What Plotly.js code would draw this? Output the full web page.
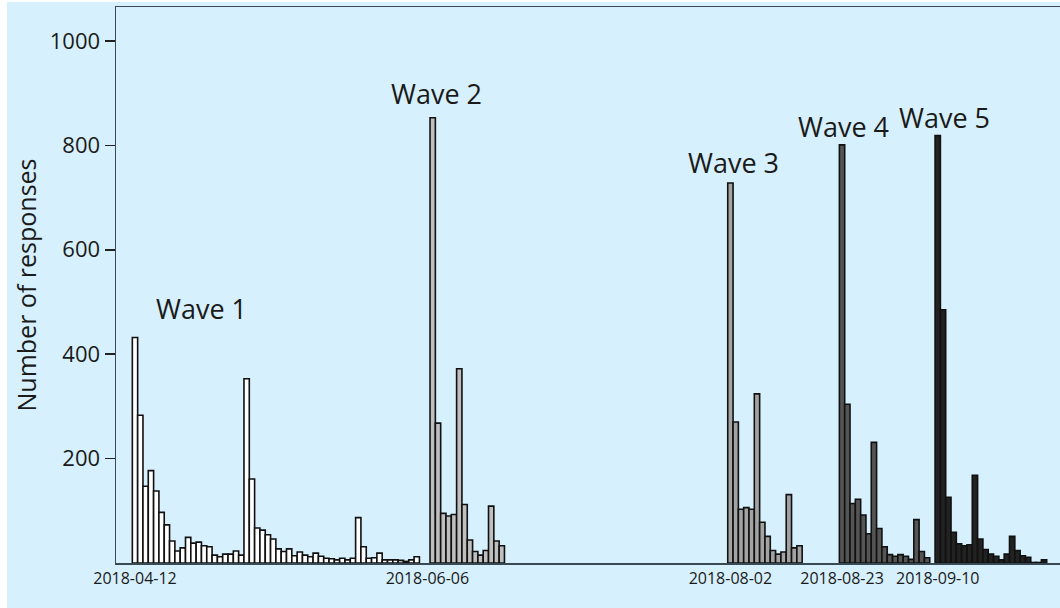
<!DOCTYPE html>
<html>
<head>
<meta charset="utf-8">
<script src="https://cdn.plot.ly/plotly-3.0.1.min.js"></script>
<style>
  html, body { margin: 0; padding: 0; background: #ffffff; }
  #chart { position: absolute; left: 7px; top: 2px; width: 1053px; height: 606px; }
</style>
</head>
<body>
<div id="chart"></div>
<script>
// ---- Data ----
const waveNames = ["Wave 1", "Wave 2", "Wave 3", "Wave 4", "Wave 5"];
const waveStartDates = ["2018-04-12", "2018-06-07", "2018-08-02", "2018-08-23", "2018-09-10"];

const wave1Responses = [432, 283, 147, 177, 138, 97, 73, 42, 23, 29, 49, 38, 40, 33, 31, 15, 12, 17, 17, 23, 15,
  353, 161, 67, 63, 54, 46, 27, 22, 27, 14, 21, 15, 12, 19, 13, 9, 8, 6, 9, 6, 9, 87, 31, 9, 10, 19, 6, 6, 6, 5, 3, 6, 12];
const wave2Responses = [853, 268, 95, 90, 93, 372, 112, 44, 22, 15, 24, 109, 42, 33];
const wave3Responses = [728, 270, 103, 106, 103, 324, 78, 51, 24, 17, 21, 131, 29, 33];
const wave4Responses = [801, 304, 114, 122, 92, 56, 231, 66, 31, 16, 13, 16, 13, 7, 83, 22, 10];
const wave5Responses = [819, 485, 126, 59, 37, 33, 35, 168, 46, 26, 17, 13, 6, 17, 51, 24, 14, 11, 1, 1, 6];

const tickDates = ["2018-04-12", "2018-06-06", "2018-08-02", "2018-08-23", "2018-09-10"];
const tickLabels = ["2018-04-12", "2018-06-06", "2018-08-02", "2018-08-23", "2018-09-10"];
const yTickValues = [200, 400, 600, 800, 1000];

// ---- Helpers ----
function consecutiveDays(start, n) {
  const out = [];
  const d0 = new Date(start + "T00:00:00Z");
  for (let i = 0; i < n; i++) {
    const d = new Date(d0.getTime() + i * 86400000);
    out.push(d.toISOString().slice(0, 10));
  }
  return out;
}

const allResponses = [wave1Responses, wave2Responses, wave3Responses, wave4Responses, wave5Responses];
const fillColors = ["#ffffff", "#bfbfbf", "#a3a3a3", "#555555", "#222222"];

const traces = allResponses.map((vals, i) => ({
  type: "bar",
  name: waveNames[i],
  x: consecutiveDays(waveStartDates[i], vals.length),
  y: vals,
  width: 86400000,
  marker: { color: fillColors[i], line: { color: "#111111", width: 1.6 } },
  hoverinfo: "x+y"
}));

const FONT = "'Open Sans', 'Noto Sans', sans-serif";

const waveLabelPos = [
  { x: "2018-04-24 10:00", y: 488 },
  { x: "2018-06-07 19:00", y: 900 },
  { x: "2018-08-02 12:00", y: 768 },
  { x: "2018-08-23 05:00", y: 837 },
  { x: "2018-09-11 08:00", y: 854 }
];

const annotations = waveNames.map((t, i) => ({
  x: waveLabelPos[i].x, y: waveLabelPos[i].y, xref: "x", yref: "y",
  text: t, showarrow: false,
  font: { family: FONT, size: 27, color: "#1a1a1a" },
  xanchor: "center", yanchor: "middle"
}));

const layout = {
  paper_bgcolor: "#d6f0fd",
  plot_bgcolor: "#d6f0fd",
  margin: { l: 109, r: 0, t: 5, b: 45 },
  showlegend: false,
  barmode: "overlay",
  bargap: 0,
  font: { family: FONT, color: "#1a1a1a" },
  xaxis: {
    type: "date",
    range: ["2018-04-08 10:15", "2018-10-03 00:00"],
    tickvals: tickDates,
    ticktext: tickLabels,
    ticks: "",
    tickfont: { family: FONT, size: 16, color: "#1a1a1a" },
    showgrid: false,
    zeroline: false,
    showline: true,
    mirror: true,
    linecolor: "#3a4a55",
    linewidth: 1.5,
    fixedrange: true
  },
  yaxis: {
    range: [0, 1065],
    tickvals: yTickValues,
    ticks: "outside",
    ticklen: 10,
    tickwidth: 1.5,
    tickcolor: "#222222",
    tickfont: { family: FONT, size: 22, color: "#1a1a1a" },
    showgrid: false,
    zeroline: false,
    showline: true,
    linecolor: "#3a4a55",
    linewidth: 1.5,
    title: { text: "Number of responses", font: { family: FONT, size: 25, color: "#1a1a1a" }, standoff: 6 },
    fixedrange: true
  },
  annotations: annotations
};

Plotly.newPlot("chart", traces, layout, { displayModeBar: false, staticPlot: true });
</script>
</body>
</html>
